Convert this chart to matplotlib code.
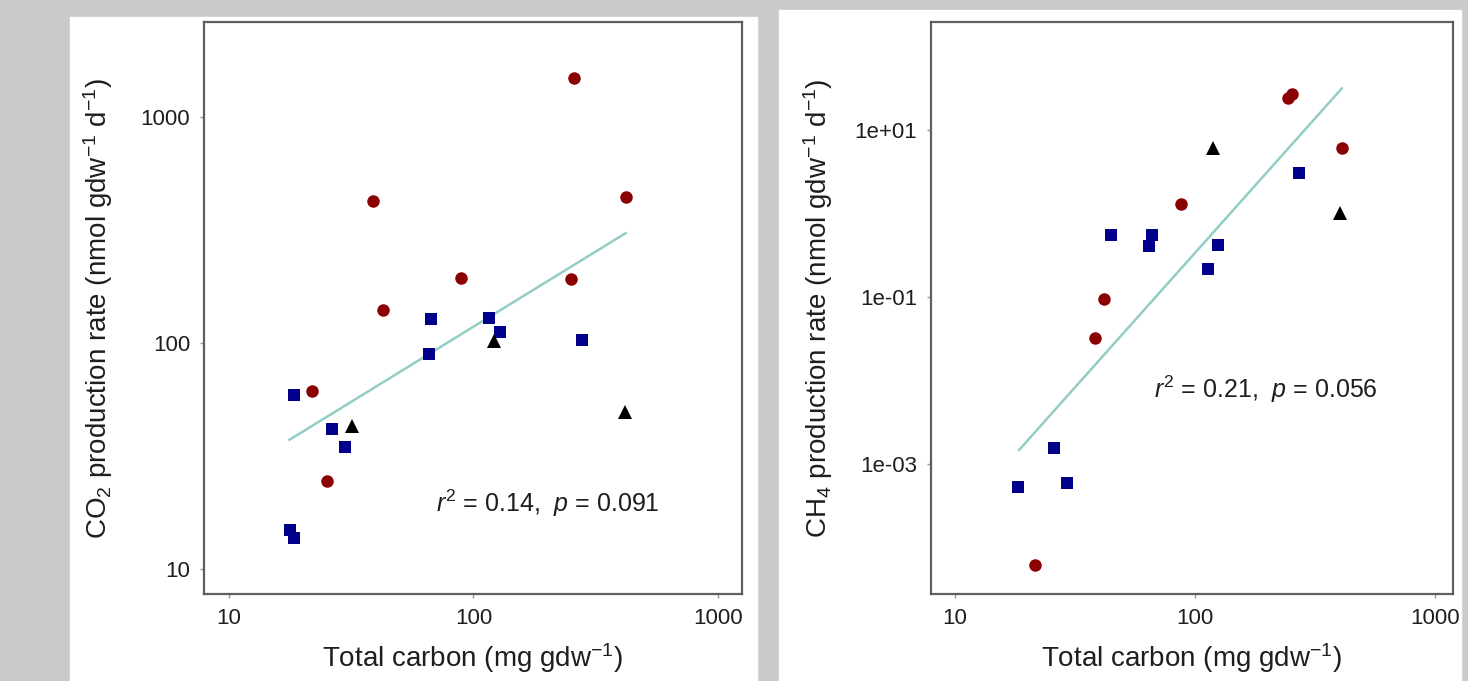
import matplotlib
matplotlib.use("Agg")
import matplotlib.pyplot as plt
from matplotlib.patches import Rectangle
from matplotlib.ticker import FixedLocator, FixedFormatter, NullLocator

# --- Fonts (Arial-like, R style) ---
plt.rcParams["font.family"] = ["Liberation Sans", "DejaVu Sans"]
plt.rcParams["mathtext.fontset"] = "custom"
plt.rcParams["mathtext.rm"] = "Liberation Sans"
plt.rcParams["mathtext.it"] = "Liberation Sans:italic"

# --- Data: CO2 panel ---
red_x_co2 = [258, 38.9, 421, 89.1, 251, 42.5, 21.8, 25.1]
red_y_co2 = [1483, 425, 444, 193, 191, 140, 61.5, 24.5]
blue_x_co2 = [67.3, 116, 128, 278, 65.5, 18.5, 26.4, 29.7, 17.7, 18.5]
blue_y_co2 = [128, 128.5, 112, 103, 89.3, 58.9, 41.5, 34.8, 14.8, 13.7]
tri_x_co2 = [121, 31.8, 417]
tri_y_co2 = [102, 42.7, 49.7]
fit_x_co2 = [17.7, 419]
fit_y_co2 = [37.3, 306]

# --- Data: CH4 panel ---
red_x_ch4 = [244, 253, 408, 87.5, 41.9, 38.2, 21.6]
red_y_ch4 = [24.6, 27.4, 6.18, 1.30, 0.096, 0.032, 6.2e-5]
blue_x_ch4 = [271, 44.8, 66.1, 64.3, 124.5, 113, 25.9, 18.3, 29.3]
blue_y_ch4 = [3.06, 0.55, 0.556, 0.41, 0.42, 0.22, 1.54e-3, 5.33e-4, 5.9e-4]
tri_x_ch4 = [119, 402]
tri_y_ch4 = [6.18, 1.01]
fit_x_ch4 = [18.5, 409]
fit_y_ch4 = [1.47e-3, 31.9]

# --- Ticks ---
x_ticks = [10, 100, 1000]
x_tick_labels = ["10", "100", "1000"]
y_ticks_co2 = [10, 100, 1000]
y_tick_labels_co2 = ["10", "100", "1000"]
y_ticks_ch4 = [1e-3, 1e-1, 1e1]
y_tick_labels_ch4 = ["1e-03", "1e-01", "1e+01"]

RED = "#8b0000"
BLUE = "#00008b"
FIT = "#93cdc6"
SPINE = "#5f5f5f"
TEXT = "#1e1e1e"


# --- One panel ---
def draw_panel(ax, reds, blues, tris, fit, yticks, ylabels, ylim, ylabel, stat, stat_pos):
    ax.set_xscale("log")
    ax.set_yscale("log")
    ax.plot(fit[0], fit[1], color=FIT, lw=1.8, zorder=2)
    ax.plot(reds[0], reds[1], "o", color=RED, ms=9, mew=0, zorder=3)
    ax.plot(blues[0], blues[1], "s", color=BLUE, ms=8.5, mew=0, zorder=3)
    ax.plot(tris[0], tris[1], "^", color="black", ms=9.5, mew=0, zorder=3)

    ax.set_xlim(10 ** 0.898, 10 ** 3.098)
    ax.set_ylim(*ylim)
    ax.xaxis.set_major_locator(FixedLocator(x_ticks))
    ax.xaxis.set_major_formatter(FixedFormatter(x_tick_labels))
    ax.yaxis.set_major_locator(FixedLocator(yticks))
    ax.yaxis.set_major_formatter(FixedFormatter(ylabels))
    ax.xaxis.set_minor_locator(NullLocator())
    ax.yaxis.set_minor_locator(NullLocator())
    ax.tick_params(direction="out", length=3, width=1, color="#9a9a9a",
                   labelsize=16, labelcolor=TEXT, pad=7)
    for s in ax.spines.values():
        s.set_color(SPINE)
        s.set_linewidth(1.6)

    ax.set_xlabel("Total carbon (mg gdw$^{-1}$)", fontsize=20, color=TEXT)
    ax.xaxis.set_label_coords(0.5, -0.082)
    ax.set_ylabel(ylabel, fontsize=20, color=TEXT)
    ax.yaxis.set_label_coords(-0.165, 0.5)

    ax.text(stat_pos[0], stat_pos[1], stat, transform=ax.transAxes,
            ha="left", va="center", fontsize=18, color=TEXT)


# --- Main ---
if __name__ == "__main__":
    fig = plt.figure(figsize=(14.68, 6.81), dpi=100, facecolor="#c8cacc")

    # white cards behind each panel
    fig.patches.append(Rectangle((70 / 1468, 0), 687 / 1468, 664 / 681,
                                 transform=fig.transFigure, color="white", zorder=-1))
    fig.patches.append(Rectangle((779 / 1468, 0), 682 / 1468, 671 / 681,
                                 transform=fig.transFigure, color="white", zorder=-1))

    ax1 = fig.add_axes([204 / 1468, 0.12775, 538 / 1468, 0.83994])
    ax2 = fig.add_axes([931 / 1468, 0.12775, 522 / 1468, 0.83994])

    draw_panel(ax1, (red_x_co2, red_y_co2), (blue_x_co2, blue_y_co2),
               (tri_x_co2, tri_y_co2), (fit_x_co2, fit_y_co2),
               y_ticks_co2, y_tick_labels_co2, (10 ** 0.889, 10 ** 3.42),
               "CO$_2$ production rate (nmol gdw$^{-1}$ d$^{-1}$)",
               "$r^2$ = 0.14,  $p$ = 0.091", (0.431, 0.159))
    draw_panel(ax2, (red_x_ch4, red_y_ch4), (blue_x_ch4, blue_y_ch4),
               (tri_x_ch4, tri_y_ch4), (fit_x_ch4, fit_y_ch4),
               y_ticks_ch4, y_tick_labels_ch4, (10 ** -4.56, 10 ** 2.30),
               "CH$_4$ production rate (nmol gdw$^{-1}$ d$^{-1}$)",
               "$r^2$ = 0.21,  $p$ = 0.056", (0.427, 0.357))
    ax2.set_xlim(10 ** 0.9, 10 ** 3.075)
    ax2.yaxis.set_label_coords(-0.184, 0.5)

    fig.savefig("out.png", dpi=100, facecolor=fig.get_facecolor())
    plt.close(fig)
